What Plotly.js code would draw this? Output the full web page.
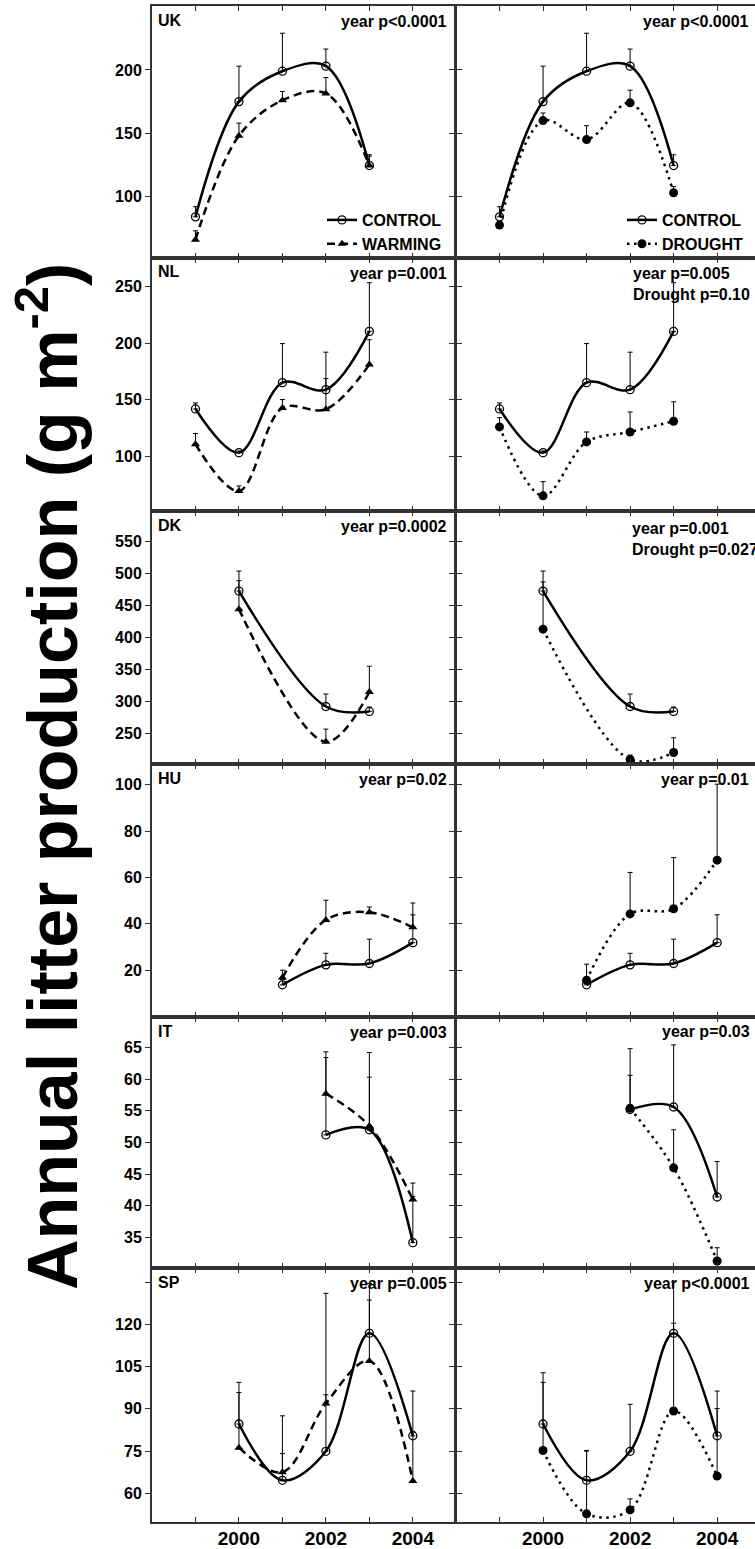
<!DOCTYPE html>
<html><head><meta charset="utf-8">
<script src="https://cdn.plot.ly/plotly-3.0.1.min.js"></script>
<style>html,body{margin:0;padding:0;background:#fff}</style>
</head><body><div id="chart" style="width:755px;height:1549px"></div>
<script>
// ---------- DATA ----------
const countries = ["UK", "NL", "DK", "HU", "IT", "SP"];

// UK
const UK_years = [1999, 2000, 2001, 2002, 2003];
const UK_control = [84, 175, 199, 203, 124.5];
const UK_control_top = [92, 203, 229, 216.5, 133];
const UK_warming = [66, 148, 176, 181.5, 124.5];
const UK_warming_top = [73, 158, 183, 194, 132];
const UK_controlD = [84, 175, 199, 203, 124.5];
const UK_controlD_top = [92, 203, 229, 216.5, 133];
const UK_drought = [77.5, 160, 145, 174, 103];
const UK_drought_top = [80, 166, 156, 184, 108];

// NL
const NL_years = [1999, 2000, 2001, 2002, 2003];
const NL_control = [141.7, 103, 165, 158.8, 210.4];
const NL_control_top = [147, 104.5, 199.6, 192, 253.5];
const NL_warming = [110.4, 69, 142.6, 141.4, 181];
const NL_warming_top = [120, 73.5, 150, 168.6, 203];
const NL_controlD = [141.7, 103, 165, 158.8, 210.4];
const NL_controlD_top = [147, 104.5, 199.6, 192, 253.5];
const NL_drought = [125.8, 64.7, 112.5, 121.3, 130.8];
const NL_drought_top = [134, 77.3, 121.3, 139, 148];

// DK
const DK_years = [2000, 2002, 2003];
const DK_control = [472.7, 292, 284.3];
const DK_control_top = [504, 311.5, 291];
const DK_warming = [444.4, 236.8, 314.6];
const DK_warming_top = [489, 256.6, 355];
const DK_controlD = [472.7, 292, 284.3];
const DK_controlD_top = [504, 311.5, 291];
const DK_drought = [413, 209, 220];
const DK_drought_top = [487, 216, 243];

// HU
const HU_years = [2001, 2002, 2003, 2004];
const HU_control = [13.7, 22.3, 22.9, 31.9];
const HU_control_top = [16, 27.3, 33.4, 43.9];
const HU_warming = [16.8, 41.7, 45, 38.5];
const HU_warming_top = [20, 50.2, 47.3, 49];
const HU_controlD = [13.7, 22.3, 22.9, 31.9];
const HU_controlD_top = [16, 27.3, 33.4, 43.9];
const HU_drought = [15.7, 44.3, 46.5, 67.5];
const HU_drought_top = [22.6, 62.2, 68.6, 100.3];

// IT
const IT_years = [2002, 2003, 2004];
const IT_control = [51.2, 52, 34.2];
const IT_control_top = [63.4, 60.3, 41.5];
const IT_warming = [57.7, 52.6, 41];
const IT_warming_top = [64.3, 64.2, 43.6];
const IT_controlD = [55.2, 55.6, 41.4];
const IT_controlD_top = [64.8, 65.4, 47];
const IT_drought = [55.4, 46, 31.3];
const IT_drought_top = [60.6, 52, 33.4];

// SP
const SP_years = [2000, 2001, 2002, 2003, 2004];
const SP_control = [84.6, 64.6, 74.9, 116.8, 80.4];
const SP_control_top = [99.4, 87.5, 131, 134.5, 96.3];
const SP_warming = [76.2, 67.5, 91.9, 107, 64.4];
const SP_warming_top = [95.8, 74.1, 95, 128.6, 82];
const SP_controlD = [84.6, 64.6, 74.9, 116.8, 80.4];
const SP_controlD_top = [99.4, 75, 91.6, 135, 96.3];
const SP_drought = [75.2, 52.7, 54.1, 89.2, 66.1];
const SP_drought_top = [102.8, 75.2, 58, 120.4, 90.1];

// statistics text
const statsWarming = ["year p<0.0001", "year p=0.001", "year p=0.0002", "year p=0.02", "year p=0.003", "year p=0.005"];
const statsDrought = ["year p<0.0001", "year p=0.005<br>Drought p=0.10", "year p=0.001<br>Drought p=0.027", "year p=0.01", "year p=0.03", "year p<0.0001"];

// axes ticks
const yTicks = {
  UK: [100, 150, 200],
  NL: [100, 150, 200, 250],
  DK: [250, 300, 350, 400, 450, 500, 550],
  HU: [20, 40, 60, 80, 100],
  IT: [35, 40, 45, 50, 55, 60, 65],
  SP: [60, 75, 90, 105, 120, 135]
};
const yTickText = {
  SP: ["60", "75", "90", "105", "120", " "]
};
const yRanges = {
  UK: [51.5, 250.5], NL: [51.3, 275.4], DK: [202, 598],
  HU: [-0.2, 109], IT: [30.2, 69.8], SP: [49.8, 140]
};
const xTickVals = [1999, 2000, 2001, 2002, 2003, 2004];
const xTickText = [" ", "2000", " ", "2002", " ", "2004"];
const yTitle = "Annual litter production (g m<sup>-2</sup>)";

const DATA = {
  UK: {years: UK_years, c: UK_control, ct: UK_control_top, w: UK_warming, wt: UK_warming_top, cd: UK_controlD, cdt: UK_controlD_top, d: UK_drought, dt: UK_drought_top},
  NL: {years: NL_years, c: NL_control, ct: NL_control_top, w: NL_warming, wt: NL_warming_top, cd: NL_controlD, cdt: NL_controlD_top, d: NL_drought, dt: NL_drought_top},
  DK: {years: DK_years, c: DK_control, ct: DK_control_top, w: DK_warming, wt: DK_warming_top, cd: DK_controlD, cdt: DK_controlD_top, d: DK_drought, dt: DK_drought_top},
  HU: {years: HU_years, c: HU_control, ct: HU_control_top, w: HU_warming, wt: HU_warming_top, cd: HU_controlD, cdt: HU_controlD_top, d: HU_drought, dt: HU_drought_top},
  IT: {years: IT_years, c: IT_control, ct: IT_control_top, w: IT_warming, wt: IT_warming_top, cd: IT_controlD, cdt: IT_controlD_top, d: IT_drought, dt: IT_drought_top},
  SP: {years: SP_years, c: SP_control, ct: SP_control_top, w: SP_warming, wt: SP_warming_top, cd: SP_controlD, cdt: SP_controlD_top, d: SP_drought, dt: SP_drought_top}
};

// ---------- LAYOUT GEOMETRY ----------
const W = 755, H = 1549;
const FONT = "Liberation Sans, Arial, Helvetica, sans-serif";
const px = v => v / W;
const py = v => 1 - v / H;
const colPx = [[152, 455], [456, 755]];
const colRange = [[1998, 2004.97], [1998, 2004.87]];
const rowPx = [[6, 258], [258, 511], [511, 764], [764, 1017], [1017, 1268], [1268, 1522]];

const styles = {
  control: {line: {color: "#000", width: 2.5, shape: "spline"}, marker: {symbol: "circle-open", size: 8, color: "#000", line: {width: 1.3, color: "#000"}}, name: "CONTROL"},
  warming: {line: {color: "#000", width: 2.5, shape: "spline", dash: "8px,5px"}, marker: {symbol: "triangle-up", size: 8, color: "#000"}, name: "WARMING"},
  drought: {line: {color: "#000", width: 2.5, shape: "spline", dash: "2.5px,4.5px"}, marker: {symbol: "circle", size: 9, color: "#000"}, name: "DROUGHT"}
};

function mkTrace(kind, xs, ys, tops, axIdx, legendOn, legendId) {
  const s = styles[kind];
  return {
    type: "scatter", mode: "lines+markers",
    x: xs, y: ys,
    xaxis: "x" + (axIdx === 1 ? "" : axIdx), yaxis: "y" + (axIdx === 1 ? "" : axIdx),
    name: s.name, line: s.line, marker: s.marker,
    cliponaxis: false,
    showlegend: legendOn, legend: legendId,
    error_y: {type: "data", symmetric: false,
      array: tops.map((t, i) => Math.max(0, t - ys[i])),
      arrayminus: ys.map(() => 0),
      color: "#000", thickness: 1, width: 2.5},
    hoverinfo: "x+y"
  };
}

const traces = [];
const legendFont = {family: FONT, size: 16, color: "#000", weight: "bold"};
const layout = {
  width: W, height: H,
  margin: {l: 0, r: 0, t: 0, b: 0},
  paper_bgcolor: "#fff", plot_bgcolor: "#fff",
  font: {family: FONT, size: 16, color: "#000", weight: "bold"},
  annotations: [],
  legend: {x: px(322), y: py(203), xanchor: "left", yanchor: "top", bgcolor: "rgba(0,0,0,0)",
    font: legendFont, itemwidth: 30, tracegroupgap: 0, borderwidth: 0},
  legend2: {x: px(622), y: py(203), xanchor: "left", yanchor: "top", bgcolor: "rgba(0,0,0,0)",
    font: legendFont, itemwidth: 30, tracegroupgap: 0, borderwidth: 0}
};

countries.forEach((cty, r) => {
  const D = DATA[cty];
  for (let c = 0; c < 2; c++) {
    const k = r * 2 + c + 1;
    const xName = "xaxis" + (k === 1 ? "" : k);
    const yName = "yaxis" + (k === 1 ? "" : k);
    const isBottom = r === countries.length - 1;
    layout[xName] = {
      domain: [px(colPx[c][0]), px(colPx[c][1])],
      range: colRange[c],
      anchor: "y" + (k === 1 ? "" : k),
      tickmode: "array", tickvals: xTickVals, ticktext: xTickText,
      showticklabels: isBottom,
      tickfont: {family: FONT, size: 19, color: "#000", weight: "bold"},
      ticks: "inside", ticklen: 5, tickwidth: 1, tickcolor: "#333",
      ticklabelstandoff: -2,
      showline: true, linecolor: "#333", linewidth: 2, mirror: "ticks",
      showgrid: false, zeroline: false, fixedrange: true
    };
    layout[yName] = {
      domain: [py(rowPx[r][1]), py(rowPx[r][0])],
      range: yRanges[cty],
      anchor: "x" + (k === 1 ? "" : k),
      tickmode: "array", tickvals: yTicks[cty],
      ticktext: yTickText[cty] || yTicks[cty].map(String),
      showticklabels: c === 0,
      tickfont: {family: FONT, size: 16, color: "#000", weight: "bold"},
      ticks: "outside", ticklen: 5, tickwidth: 1, tickcolor: "#333",
      showline: true, linecolor: "#333", linewidth: 2, mirror: c === 0 ? "ticks" : false,
      showgrid: false, zeroline: false, fixedrange: true
    };
    if (c === 0) {
      traces.push(mkTrace("control", D.years, D.c, D.ct, k, r === 0, "legend"));
      traces.push(mkTrace("warming", D.years, D.w, D.wt, k, r === 0, "legend"));
    } else {
      traces.push(mkTrace("control", D.years, D.cd, D.cdt, k, r === 0, "legend2"));
      traces.push(mkTrace("drought", D.years, D.d, D.dt, k, r === 0, "legend2"));
    }
  }
  // panel label
  layout.annotations.push({text: cty, xref: "paper", yref: "paper", x: px(156), y: py(rowPx[r][0] + 14),
    xanchor: "left", yanchor: "middle", showarrow: false, font: {family: FONT, size: 16, color: "#000", weight: "bold"}});
  // stats left (right-aligned)
  layout.annotations.push({text: statsWarming[r], xref: "paper", yref: "paper", x: px(449), y: py(rowPx[r][0] + 15),
    xanchor: "right", yanchor: "middle", showarrow: false, font: {family: FONT, size: 16, color: "#000", weight: "bold"}});
});

// right stats
const rightStatPos = [
  {x: 751, y: 21, anchor: "right"},
  {x: 631, y: 284, anchor: "left"},
  {x: 630, y: 539, anchor: "left"},
  {x: 751, y: 779, anchor: "right"},
  {x: 752, y: 1031, anchor: "right"},
  {x: 752, y: 1283, anchor: "right"}
];
statsDrought.forEach((t, r) => {
  const p = rightStatPos[r];
  layout.annotations.push({text: t, xref: "paper", yref: "paper", x: px(p.x), y: py(p.y),
    xanchor: p.anchor, yanchor: "middle", align: "left", showarrow: false,
    font: {family: FONT, size: 16, color: "#000", weight: "bold"}});
});

// y axis title
layout.annotations.push({text: yTitle, xref: "paper", yref: "paper", x: px(48), y: py(777),
  xanchor: "center", yanchor: "middle", textangle: -90, showarrow: false,
  font: {family: FONT, size: 70, color: "#000", weight: "bold"}});

Plotly.newPlot("chart", traces, layout, {displayModeBar: false, staticPlot: true});
</script>
</body></html>
